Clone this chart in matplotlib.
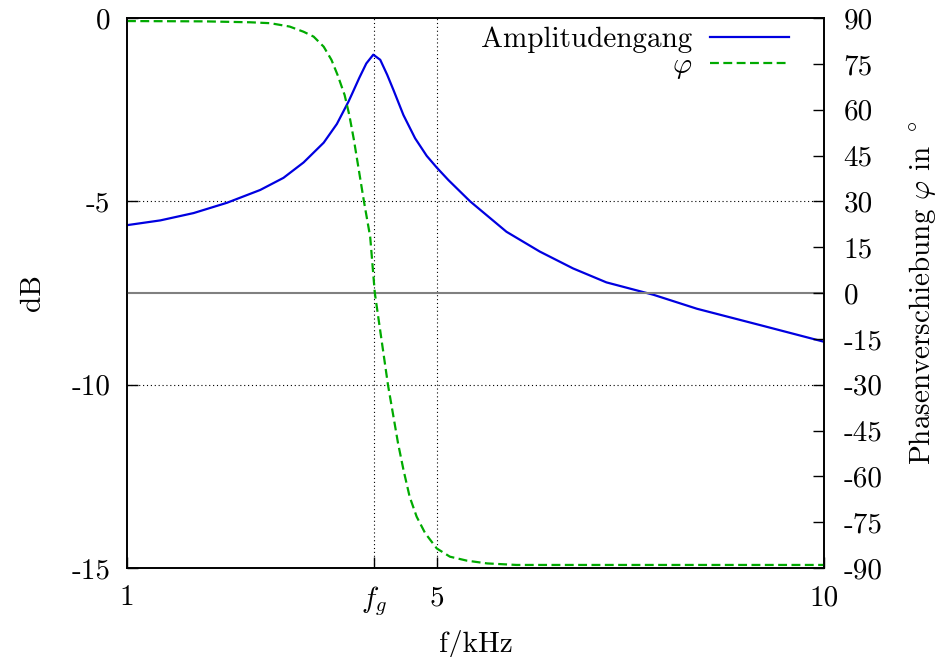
import matplotlib
matplotlib.use("Agg")
import matplotlib.pyplot as plt

plt.rcParams['font.family'] = ['cmr10', 'DejaVu Serif']
plt.rcParams['mathtext.fontset'] = 'cm'
plt.rcParams['axes.unicode_minus'] = False
plt.rcParams['font.size'] = 21

# Amplitudengang (dB) ueber f in kHz
f_amp = [1.00, 1.43, 1.86, 2.29, 2.72, 3.02, 3.28, 3.54, 3.71, 3.86, 3.91,
         4.00, 4.09, 4.18, 4.27, 4.36, 4.44, 4.57, 4.72, 4.87, 5.00, 5.15, 5.43,
         5.90, 6.33, 6.76, 7.19, 7.80, 8.36, 9.22, 10.00]
amp_db = [-5.65, -5.52, -5.32, -5.04, -4.69, -4.36, -3.94, -3.40, -2.89, -2.28, -2.05,
          -1.63, -1.24, -1.00, -1.14, -1.55, -1.96, -2.65, -3.28, -3.76, -4.08, -4.42, -5.00,
          -5.83, -6.37, -6.83, -7.21, -7.55, -7.93, -8.40, -8.83]

# Phasenverschiebung in Grad
f_ph = [1.00, 2.00, 2.59, 2.85, 3.10, 3.28, 3.41, 3.54, 3.64, 3.72, 3.81, 3.87,
        3.93, 4.06, 4.14, 4.20, 4.37, 4.50, 4.57, 4.65, 4.74, 4.85, 5.00, 5.17,
        5.39, 5.65, 6.03, 7.00, 8.50, 10.00]
phase = [89.0, 88.9, 88.6, 88.3, 87.2, 85.5, 83.9, 80.6, 76.3, 71.3, 64.8, 58.3,
         50.1, 29.9, 18.4, 0.0, -30.1, -49.2, -57.9, -66.7, -73.2, -78.6, -83.6, -86.3,
         -87.6, -88.5, -89.0, -89.0, -89.0, -89.0]

f_g = 4.19
x_ticks = [1, f_g, 5, 10]
x_labels = ['1', '$f_g$', '5', '10']
db_ticks = [-15, -10, -5, 0]
db_grid = [-10, -5]
x_grid = [f_g, 5]
ph_ticks = list(range(-90, 91, 15))

fig = plt.figure(figsize=(9.42, 6.57), dpi=100)
ax = fig.add_axes([127/942, 1 - 568/657, 697/942, 550/657])
ax2 = ax.twinx()

ax.set_xlim(1, 10)
ax.set_ylim(-15, 0)
ax2.set_ylim(-90, 90)

for g in db_grid:
    ax.axhline(g, color='black', lw=0.8, ls=(0, (1, 2.5)), zorder=1)
for g in x_grid:
    ax.axvline(g, color='black', lw=0.8, ls=(0, (1, 2.5)), zorder=1)
ax2.axhline(0, color='#808080', lw=1.5, zorder=1)

l1, = ax.plot(f_amp, amp_db, color='#0000e0', lw=1.6, label='Amplitudengang')
l2, = ax2.plot(f_ph, phase, color='#00aa00', lw=1.6, ls=(0, (4, 2)), label=r'$\varphi$')

ax.set_xticks(x_ticks)
ax.set_xticklabels(x_labels)
ax.set_yticks(db_ticks)
ax.set_yticklabels([str(t) for t in db_ticks])
ax2.set_yticks(ph_ticks)
ax2.set_yticklabels([str(t) for t in ph_ticks])

ax.tick_params(axis='x', direction='in', length=8, width=1, pad=12, top=False)
ax.tick_params(axis='y', direction='in', length=8, width=1, pad=12, right=False)
ax2.tick_params(axis='y', direction='in', length=8, width=1, pad=14)

for a in (ax, ax2):
    for s in a.spines.values():
        s.set_linewidth(1.2)

ax.set_xlabel('f/kHz', labelpad=8)
ax.set_ylabel('dB', labelpad=18)
ax2.set_ylabel(r'Phasenverschiebung $\varphi$ in $^\circ$', labelpad=18)

ax2.legend(handles=[l1, l2], loc='upper right', bbox_to_anchor=(0.95, 0.985),
           frameon=False, markerfirst=False, handlelength=2.7, handletextpad=0.62,
           borderaxespad=0, borderpad=0, labelspacing=0)

fig.savefig('out.png', dpi=100)
